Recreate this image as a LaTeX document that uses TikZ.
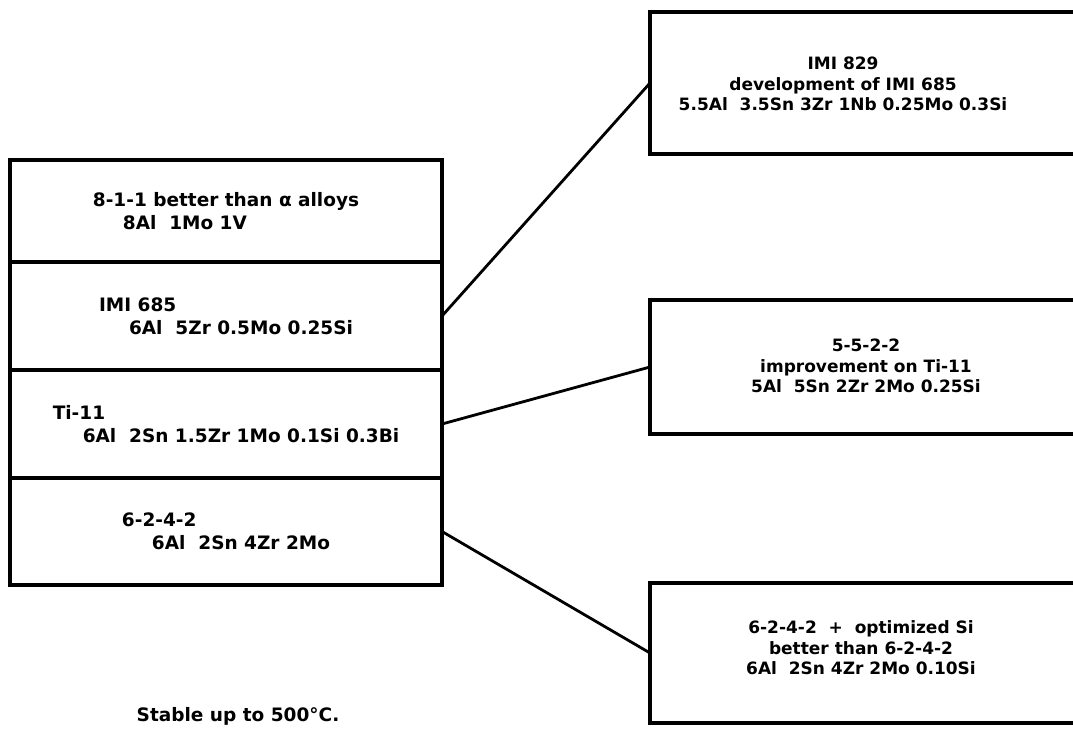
\documentclass[tikz,border=0pt]{standalone}
\usepackage{fontspec}
\setmainfont{DejaVu Sans}
\usetikzlibrary{positioning}

\begin{document}
\begin{tikzpicture}[
  x=1pt, y=-1pt,
  font=\bfseries\fontsize{18.5}{23}\selectfont,
  row/.style={
    rectangle, draw, line width=3.4pt, outer sep=0pt,
    minimum width=432pt, align=left, inner sep=0pt
  },
  alloy/.style={
    rectangle, draw, line width=3.4pt, outer sep=0pt,
    minimum width=460pt, anchor=west
  },
  alloytxt/.style={align=center, font=\bfseries\fontsize{17}{20.5}\selectfont},
  link/.style={line width=2.8pt}
]
\useasboundingbox (0,0) rectangle (1073,730);

% Stable alloys: stacked rows
\node[row, minimum height=102pt, anchor=north west] (r811) at (10,160) {8-1-1 better than α alloys\\\hspace*{30pt}8Al~ 1Mo 1V};
\node[row, minimum height=108pt, below=0pt of r811] (imi685) {IMI 685\\\hspace*{30pt}6Al~ 5Zr 0.5Mo 0.25Si};
\node[row, minimum height=108pt, below=0pt of imi685] (ti11) {Ti-11\\\hspace*{30pt}6Al~ 2Sn 1.5Zr 1Mo 0.1Si 0.3Bi};
\node[row, minimum height=107pt, below=0pt of ti11] (r6242) {6-2-4-2\\\hspace*{30pt}6Al~ 2Sn 4Zr 2Mo};

\node (stable) at (238,716) {Stable up to 500°C.};

% Developments
\node[alloy, minimum height=142pt] (imi829) at (650,83) {};
\node[alloytxt] (imi829txt) at (843,84) {IMI 829\\development of IMI 685\\5.5Al~ 3.5Sn 3Zr 1Nb 0.25Mo 0.3Si};
\node[alloy, minimum height=134pt] (r5522) at (650,367) {};
\node[alloytxt] (r5522txt) at (866,366) {5-5-2-2\\improvement on Ti-11\\5Al~ 5Sn 2Zr 2Mo 0.25Si};
\node[alloy, minimum height=140pt] (r6242si) at (650,653) {};
\node[alloytxt] (r6242sitxt) at (861,648) {6-2-4-2~ +~ optimized Si\\better than 6-2-4-2\\6Al~ 2Sn 4Zr 2Mo 0.10Si};

% --- edges ---
\draw[link] (imi685.east) -- (imi829.west);
\draw[link] (ti11.east) -- (r5522.west);
\draw[link] (r6242.east) -- (r6242si.west);

\end{tikzpicture}
\end{document}
